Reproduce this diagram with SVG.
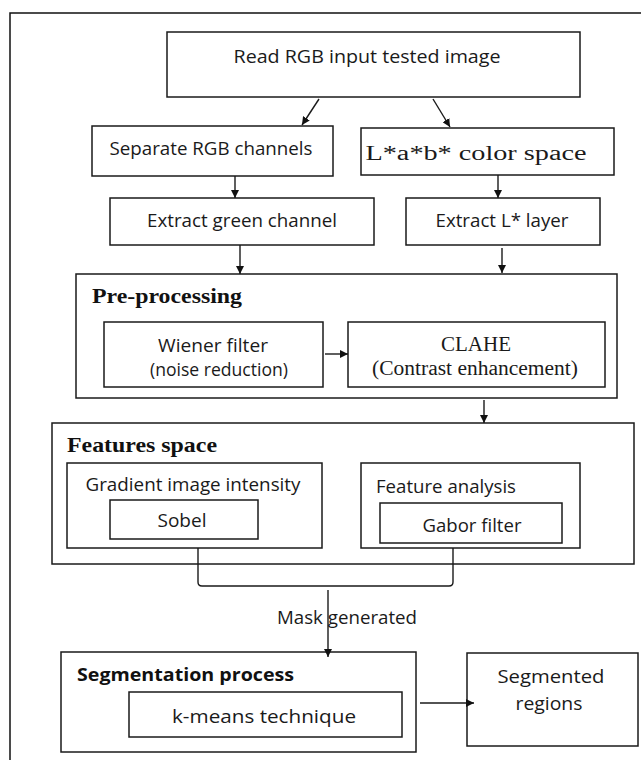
<svg xmlns="http://www.w3.org/2000/svg" width="641" height="760" viewBox="0 0 641 760">
<style>
.b{fill:#fff;stroke:#1a1a1a;stroke-width:1.5}
.t{font-family:"Open Sans","Noto Sans",sans-serif;font-size:18px;fill:#1a1a1a}
.s{font-family:"Liberation Serif","Times New Roman",serif;font-size:20px;fill:#1a1a1a}
.hb{font-family:"Liberation Serif","Times New Roman",serif;font-size:22px;font-weight:bold;fill:#111}
.sb{font-family:"Open Sans","Noto Sans",sans-serif;font-size:18px;font-weight:bold;fill:#111}
.c{stroke:#1a1a1a;stroke-width:1.4;fill:none}
.m{text-anchor:middle}
</style>
<defs>
<marker id="ah" viewBox="0 0 10 10" refX="10" refY="5" markerWidth="8" markerHeight="8" markerUnits="userSpaceOnUse" orient="auto">
<path d="M0,0 L10,5 L0,10 z" fill="#111"/>
</marker>
</defs>
<rect width="641" height="760" fill="#fff"/>
<path d="M10,770 L10,13 L641,13" fill="none" stroke="#111" stroke-width="1.5"/>

<g id="read">
<rect class="b" x="167" y="32" width="413" height="65"/>
<text class="t m" x="367" y="63" textLength="267" lengthAdjust="spacingAndGlyphs">Read RGB input tested image</text>
</g>
<g id="separate">
<rect class="b" x="92" y="126" width="241" height="50"/>
<text class="t m" x="211" y="155" textLength="203" lengthAdjust="spacingAndGlyphs">Separate RGB channels</text>
</g>
<g id="lab">
<rect class="b" x="361" y="128" width="253" height="47"/>
<text class="s m" x="476" y="160" font-size="22" textLength="221" lengthAdjust="spacingAndGlyphs">L*a*b* color space</text>
</g>
<g id="green">
<rect class="b" x="110" y="198" width="264" height="47"/>
<text class="t m" x="242" y="227" textLength="190" lengthAdjust="spacingAndGlyphs">Extract green channel</text>
</g>
<g id="llayer">
<rect class="b" x="406" y="198" width="194" height="47"/>
<text class="t m" x="502" y="227" textLength="133" lengthAdjust="spacingAndGlyphs">Extract L* layer</text>
</g>
<g id="preprocessing">
<rect class="b" x="76" y="274" width="541" height="124"/>
<text class="hb" x="92" y="303" textLength="150" lengthAdjust="spacingAndGlyphs">Pre-processing</text>
</g>
<g id="wiener">
<rect class="b" x="104" y="322" width="219" height="65"/>
<text class="t m" x="213" y="352" textLength="110" lengthAdjust="spacingAndGlyphs">Wiener filter</text>
<text class="t m" x="219" y="376" textLength="138" lengthAdjust="spacingAndGlyphs">(noise reduction)</text>
</g>
<g id="clahe">
<rect class="b" x="348" y="322" width="257" height="65"/>
<text class="s m" x="476" y="351" textLength="70" lengthAdjust="spacingAndGlyphs">CLAHE</text>
<text class="s m" x="475" y="375" textLength="206" lengthAdjust="spacingAndGlyphs">(Contrast enhancement)</text>
</g>
<g id="features">
<rect class="b" x="52" y="423" width="582" height="141"/>
<text class="hb" x="67" y="452" textLength="150" lengthAdjust="spacingAndGlyphs">Features space</text>
</g>
<g id="gradient">
<rect class="b" x="67" y="463" width="255" height="85"/>
<text class="t m" x="193" y="491" textLength="215" lengthAdjust="spacingAndGlyphs">Gradient image intensity</text>
</g>
<g id="sobel">
<rect class="b" x="110" y="500" width="148" height="39"/>
<text class="t m" x="182" y="527" textLength="49" lengthAdjust="spacingAndGlyphs">Sobel</text>
</g>
<g id="analysis">
<rect class="b" x="361" y="463" width="219" height="85"/>
<text class="t" x="376" y="493" textLength="140" lengthAdjust="spacingAndGlyphs">Feature analysis</text>
</g>
<g id="gabor">
<rect class="b" x="380" y="503" width="182" height="40"/>
<text class="t m" x="472" y="532" textLength="99" lengthAdjust="spacingAndGlyphs">Gabor filter</text>
</g>
<g id="segmentation">
<rect class="b" x="61" y="652" width="355" height="100"/>
<text class="sb" x="77" y="681" textLength="217" lengthAdjust="spacingAndGlyphs">Segmentation process</text>
</g>
<g id="kmeans">
<rect class="b" x="129" y="692" width="273" height="45"/>
<text class="t m" x="264" y="723" textLength="184" lengthAdjust="spacingAndGlyphs">k-means technique</text>
</g>
<g id="segmented">
<rect class="b" x="467" y="653" width="171" height="93"/>
<text class="t m" x="551" y="683" textLength="107" lengthAdjust="spacingAndGlyphs">Segmented</text>
<text class="t m" x="549" y="710" textLength="67" lengthAdjust="spacingAndGlyphs">regions</text>
</g>

<g id="connectors">
<line class="c" x1="319" y1="99" x2="302" y2="125" marker-end="url(#ah)"/>
<line class="c" x1="433" y1="99" x2="450" y2="127" marker-end="url(#ah)"/>
<line class="c" x1="235" y1="176" x2="235" y2="198" marker-end="url(#ah)"/>
<line class="c" x1="498" y1="175" x2="498" y2="198" marker-end="url(#ah)"/>
<line class="c" x1="240" y1="245" x2="240" y2="274" marker-end="url(#ah)"/>
<line class="c" x1="502" y1="248" x2="502" y2="273" marker-end="url(#ah)"/>
<line class="c" x1="325" y1="354" x2="348" y2="354" marker-end="url(#ah)"/>
<line class="c" x1="484" y1="400" x2="484" y2="423" marker-end="url(#ah)"/>
<path class="c" d="M198,548 L198,582 Q198,586 202,586 L449,586 Q453,586 453,582 L453,548"/>
<line class="c" x1="328" y1="590" x2="328" y2="657" marker-end="url(#ah)"/>
<text class="t" x="277" y="624" textLength="140" lengthAdjust="spacingAndGlyphs">Mask generated</text>
<line class="c" x1="420" y1="703" x2="474" y2="703" marker-end="url(#ah)"/>
</g>
</svg>
